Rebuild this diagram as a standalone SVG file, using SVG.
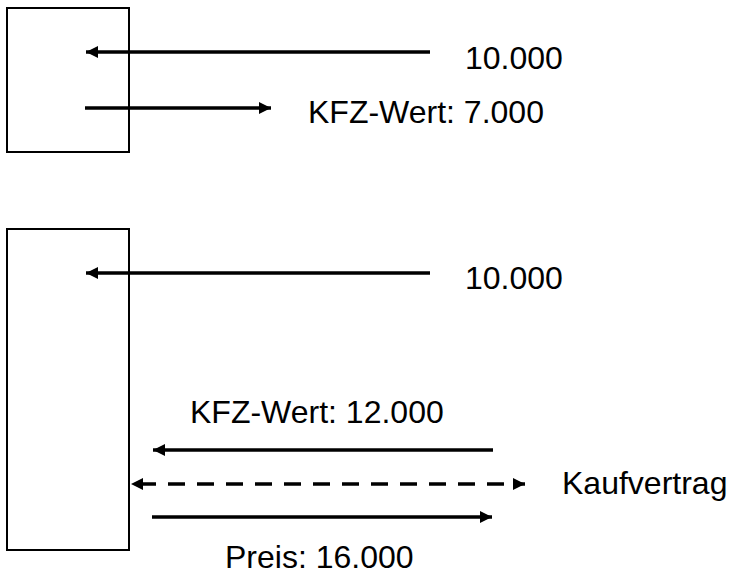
<svg xmlns="http://www.w3.org/2000/svg" width="735" height="576" viewBox="0 0 735 576">
<style>
.box{fill:#fff;stroke:#000;stroke-width:2}
.ln{stroke:#000;stroke-width:3.5;fill:none}
.dash{stroke-dasharray:17 12;stroke-dashoffset:21}
text{font-family:"Liberation Sans",Arial,sans-serif;font-size:32px;fill:#000}
</style>
<defs>
<marker id="ah" markerUnits="userSpaceOnUse" markerWidth="14" markerHeight="12" refX="12" refY="6" orient="auto-start-reverse">
<path d="M0,0 L12,6 L0,12 Z" fill="#000"/>
</marker>
</defs>
<g id="box1"><rect class="box" x="7" y="8" width="122" height="144"/></g>
<g id="box2"><rect class="box" x="7" y="229" width="122" height="321"/></g>
<g id="connectors">
<line class="ln" x1="430" y1="52" x2="86" y2="52" marker-end="url(#ah)"/>
<line class="ln" x1="85" y1="108" x2="271" y2="108" marker-end="url(#ah)"/>
<line class="ln" x1="430" y1="273" x2="86" y2="273" marker-end="url(#ah)"/>
<line class="ln" x1="493" y1="450" x2="153" y2="450" marker-end="url(#ah)"/>
<line class="ln dash" x1="131" y1="484" x2="525" y2="484" marker-start="url(#ah)" marker-end="url(#ah)"/>
<line class="ln" x1="152" y1="517" x2="492" y2="517" marker-end="url(#ah)"/>
</g>
<g id="labels">
<text x="465" y="69">10.000</text>
<text x="308" y="123">KFZ-Wert: 7.000</text>
<text x="465" y="289">10.000</text>
<text x="190" y="423">KFZ-Wert: 12.000</text>
<text x="562" y="494">Kaufvertrag</text>
<text x="225" y="568">Preis: 16.000</text>
</g>
</svg>
